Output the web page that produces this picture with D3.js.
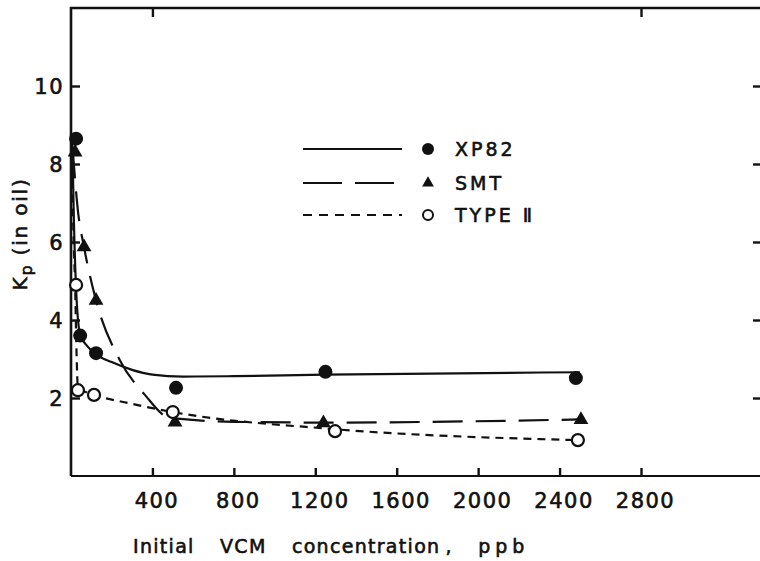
<!DOCTYPE html>
<html>
<head>
<meta charset="utf-8">
<script src="https://cdn.jsdelivr.net/npm/d3@7/dist/d3.min.js"></script>
<style>
  html, body { margin: 0; padding: 0; background: #fff; }
  svg { display: block; }
  text { font-family: "DejaVu Sans", sans-serif; fill: #111; stroke: #111; stroke-width: 0.6px; }
</style>
</head>
<body>
<svg id="chart" width="760" height="561"></svg>
<script>
// Axis ticks
const xTickValues = [400, 800, 1200, 1600, 2000, 2400, 2800];
const topTickValues = [400, 2800];
const yTickValues = [2, 4, 6, 8, 10];

// Measured points: initial VCM concentration (ppb) and Kp (in oil)
const xp82X = [25, 45, 123, 516, 1250, 2480];
const xp82Y = [8.65, 3.6, 3.15, 2.26, 2.67, 2.51];
const smtX = [20, 64, 123, 511, 1240, 2505];
const smtY = [8.3, 5.87, 4.5, 1.38, 1.36, 1.44];
const type2X = [25, 34, 113, 500, 1297, 2490];
const type2Y = [4.9, 2.2, 2.08, 1.64, 1.15, 0.92];

// Hand-fitted trend curves for each series
const xp82FitX = [6, 14, 25, 45, 80, 123, 200, 300, 400, 550, 800, 1250, 2500];
const xp82FitY = [8.7, 6.6, 4.8, 3.62, 3.33, 3.12, 2.92, 2.72, 2.6, 2.55, 2.56, 2.6, 2.66];
const smtFitX = [8, 34, 64, 123, 240, 363, 486, 800, 1250, 2500];
const smtFitY = [8.4, 6.8, 5.87, 4.5, 2.97, 2.08, 1.49, 1.39, 1.37, 1.45];
const type2FitX = [5, 12, 20, 27, 34, 60, 113, 300, 500, 1297, 2490];
const type2FitY = [8.3, 6.2, 4.9, 3.2, 2.25, 2.18, 2.08, 1.85, 1.64, 1.2, 0.92];

const seriesNames = ["XP82", "SMT", "TYPE \u2161"];

const svg = d3.select("#chart");
const ink = "#111";

// Frame of the plot
const plotLeft = 71, plotRight = 762, plotTop = 8, plotBottom = 476;
const x = d3.scaleLinear().domain([0, 2800]).range([plotLeft, 641]);
const y = d3.scaleLinear().domain([0, 12]).range([plotBottom, plotTop]);

const zip = (xs, ys) => xs.map((v, i) => [v, ys[i]]);

svg.append("defs").append("clipPath").attr("id", "plot")
  .append("rect").attr("x", plotLeft).attr("y", plotTop)
  .attr("width", plotRight - plotLeft).attr("height", plotBottom - plotTop);

// Axes
const axisStyle = g => {
  g.select(".domain").remove();
  g.selectAll(".tick line").attr("stroke", ink).attr("stroke-width", 2.4);
  g.selectAll(".tick text").attr("fill", ink).style("font-size", "21px")
    .style("letter-spacing", "1.5px");
};

svg.append("g").attr("transform", `translate(0,${plotBottom})`)
  .call(d3.axisBottom(x).tickValues(xTickValues).tickSizeInner(-8).tickSizeOuter(0).tickPadding(17)
    .tickFormat(d3.format("d")))
  .call(axisStyle)
  .call(g => g.selectAll(".tick text").attr("dx", 4));

svg.append("g").attr("transform", `translate(0,${plotTop})`)
  .call(d3.axisTop(x).tickValues(topTickValues).tickSizeInner(-9).tickSizeOuter(0).tickFormat(""))
  .call(axisStyle);

svg.append("g").attr("transform", `translate(${plotLeft},0)`)
  .call(d3.axisLeft(y).tickValues(yTickValues).tickSizeInner(-9).tickSizeOuter(0).tickPadding(7)
    .tickFormat(d3.format("d")))
  .call(axisStyle)
  .call(g => g.selectAll(".tick text").attr("dy", "0.36em"));

svg.append("g").attr("transform", `translate(${plotRight},0)`)
  .call(d3.axisRight(y).tickValues(yTickValues).tickSizeInner(-9).tickSizeOuter(0).tickFormat(""))
  .call(axisStyle);

// Frame lines
const frame = svg.append("g").attr("stroke", ink).attr("stroke-width", 2.6).attr("fill", "none");
frame.append("path").attr("d", `M${plotLeft},${plotBottom}V${plotTop}H${plotRight}`);
frame.append("path").attr("d", `M${plotLeft},${plotBottom}H${plotRight}`).attr("stroke-width", 2.2);

// Trend curves
const line = d3.line().x(d => x(d[0])).y(d => y(d[1])).curve(d3.curveMonotoneX);
const curves = svg.append("g").attr("clip-path", "url(#plot)").attr("fill", "none")
  .attr("stroke", ink).attr("stroke-width", 2.2);
curves.append("path").attr("d", line(zip(xp82FitX, xp82FitY)));
curves.append("path").attr("d", line(zip(smtFitX, smtFitY))).attr("stroke-dasharray", "30,13");
curves.append("path").attr("d", line(zip(type2FitX, type2FitY))).attr("stroke-dasharray", "8,6");

// Markers
const tri = d3.symbol().type(d3.symbolTriangle);
const marks = svg.append("g");
marks.selectAll(".xp82").data(zip(xp82X, xp82Y)).join("circle")
  .attr("cx", d => x(d[0])).attr("cy", d => y(d[1])).attr("r", 7).attr("fill", ink);
marks.selectAll(".smt").data(zip(smtX, smtY)).join("path")
  .attr("transform", d => `translate(${x(d[0])},${y(d[1])})`)
  .attr("d", tri.size(95)()).attr("fill", ink);
marks.selectAll(".type2").data(zip(type2X, type2Y)).join("circle")
  .attr("cx", d => x(d[0])).attr("cy", d => y(d[1])).attr("r", 6)
  .attr("fill", "#fff").attr("stroke", ink).attr("stroke-width", 2.2);

// Legend
const legend = svg.append("g");
const rows = [149, 183, 215];
const dashes = [null, "39,13", "9,7"];
rows.forEach((ry, i) => {
  legend.append("line").attr("x1", 303).attr("x2", 402).attr("y1", ry).attr("y2", ry)
    .attr("stroke", ink).attr("stroke-width", 2.2).attr("stroke-dasharray", dashes[i]);
  if (i === 0) legend.append("circle").attr("cx", 428).attr("cy", ry).attr("r", 6).attr("fill", ink);
  if (i === 1) legend.append("path").attr("transform", `translate(428,${ry})`)
    .attr("d", d3.symbol().type(d3.symbolTriangle).size(60)()).attr("fill", ink);
  if (i === 2) legend.append("circle").attr("cx", 428).attr("cy", ry).attr("r", 5)
    .attr("fill", "#fff").attr("stroke", ink).attr("stroke-width", 2);
  legend.append("text").attr("x", 455).attr("y", ry).attr("dy", "0.36em")
    .style("font-size", "19px").style("letter-spacing", "3px").text(seriesNames[i]);
});

// Axis titles
const xt = svg.append("text").attr("x", 133).attr("y", 553).attr("text-anchor", "start")
  .style("font-size", "19px").style("word-spacing", "18px").style("letter-spacing", "1.3px");
xt.append("tspan").text("Initial VCM concentration\u2009, ");
xt.append("tspan").style("letter-spacing", "5px").text("ppb");

const yt = svg.append("text").attr("transform", "translate(27,234) rotate(-90)")
  .attr("text-anchor", "middle").style("font-size", "20px").style("letter-spacing", "1.8px");
yt.append("tspan").text("K");
yt.append("tspan").attr("dy", 5).style("font-size", "16px").text("p");
yt.append("tspan").attr("dy", -5).text(" (in oil)");
</script>
</body>
</html>
